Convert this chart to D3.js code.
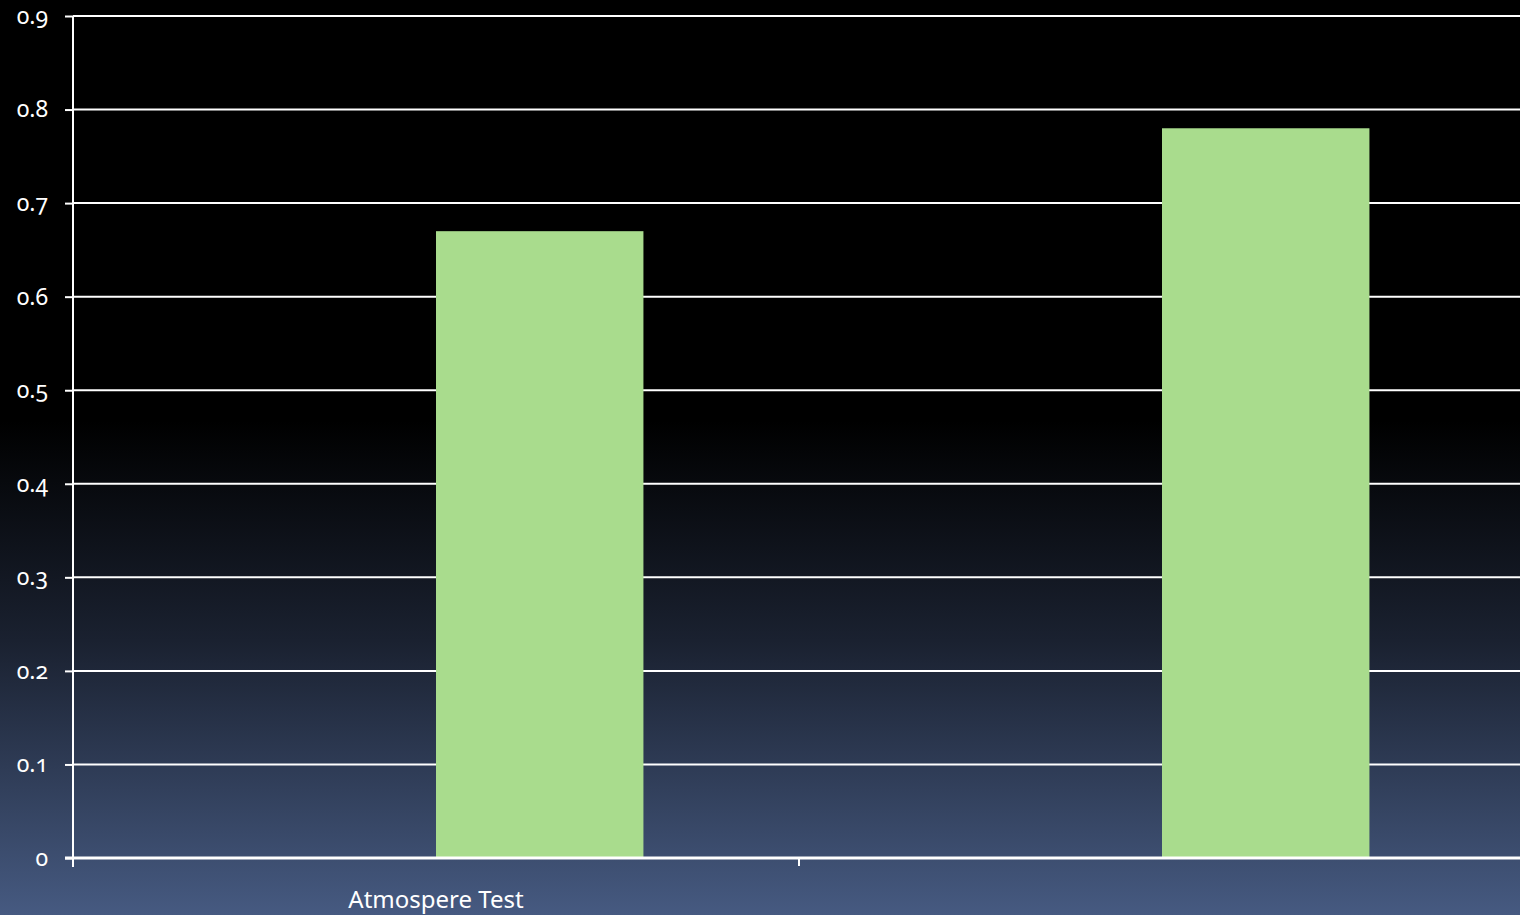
<!DOCTYPE html>
<html><head><meta charset="utf-8">
<script src="https://cdn.jsdelivr.net/npm/d3@7"></script>
<style>
html,body{margin:0;padding:0;background:#000;overflow:hidden}
text{font-family:"Noto Sans","Open Sans",sans-serif;fill:#fff;font-variant-numeric:oldstyle-nums;font-feature-settings:"onum" 1}
</style></head>
<body><svg id="c" width="1520" height="915"></svg>
<script>
const categories = ["Atmospere Test", ""];
const seriesNames = ["Series 1", "Series 2"];
const series1 = [null, null];
const series2 = [0.67, 0.78];
const yTicks = [0, 0.1, 0.2, 0.3, 0.4, 0.5, 0.6, 0.7, 0.8, 0.9];

const W = 1520, H = 915;
const svg = d3.select("#c");
const defs = svg.append("defs");
const grad = defs.append("linearGradient").attr("id","bg").attr("x1",0).attr("y1",0).attr("x2",0).attr("y2",1);
grad.append("stop").attr("offset","0%").attr("stop-color","#000");
grad.append("stop").attr("offset","46%").attr("stop-color","#000");
grad.append("stop").attr("offset","70%").attr("stop-color","#1a2130");
grad.append("stop").attr("offset","100%").attr("stop-color","#465a81");
svg.append("rect").attr("width",W).attr("height",H).attr("fill","url(#bg)");

const m = {left:73, top:16, right:-5, bottom:57};
const x0 = d3.scaleBand().domain(d3.range(categories.length)).range([m.left, W - m.right]).paddingInner(0).paddingOuter(0);
const y = d3.scaleLinear().domain([0, 0.9]).range([H - m.bottom, m.top]);
const bw = x0.bandwidth();
const barW = bw / 3.5;
const x1 = d3.scaleBand().domain([0,1]).range([0.75*barW, 2.75*barW]).padding(0);

// gridlines
svg.append("g").selectAll("line").data(yTicks.filter(d=>d>0)).join("line")
  .attr("x1", m.left).attr("x2", W).attr("y1", d=>y(d)).attr("y2", d=>y(d))
  .attr("stroke","#fff").attr("stroke-width",2);

// bars
const data = [series1, series2];
data.forEach((s, si) => {
  svg.append("g").selectAll("rect").data(s.map((v,i)=>({v,i})).filter(d=>d.v!=null)).join("rect")
    .attr("x", d => x0(d.i) + x1(si))
    .attr("width", x1.bandwidth())
    .attr("y", d => y(d.v))
    .attr("height", d => y(0) - y(d.v))
    .attr("fill", "#a9dc8d");
});

// y axis
const ya = d3.axisLeft(y).tickValues(yTicks).tickFormat(d => d === 0 ? "0" : d3.format(".1f")(d)).tickSize(8).tickPadding(17);
const gy = svg.append("g").attr("transform",`translate(${m.left},0)`).call(ya);
gy.select(".domain").attr("stroke","#fff").attr("stroke-width",2).attr("d",`M0,${y(0.9)}V${y(0)+9}`);
gy.selectAll(".tick line").attr("stroke","#fff").attr("stroke-width",2);
gy.selectAll(".tick text").attr("fill","#fff").style("font-size","23px").attr("font-family",null);

// x axis
const xa = d3.axisBottom(x0).tickFormat(i => categories[i]).tickSize(0).tickPadding(45);
const gx = svg.append("g").attr("transform",`translate(0,${y(0)})`).call(xa);
gx.select(".domain").attr("stroke","#fff").attr("stroke-width",3).attr("d",`M${m.left-8},0H${W}`);
gx.selectAll(".tick text").attr("fill","#fff").style("font-size","24px").attr("font-family",null).attr("dy","0.2em")
  .attr("x", 0);
gx.selectAll(".tick").attr("transform", (i) => `translate(${x0(i)+bw/2},0)`);
// category separator ticks
svg.append("g").selectAll("line").data(d3.range(1, categories.length)).join("line")
  .attr("x1", i=>x0(i)).attr("x2", i=>x0(i)).attr("y1", y(0)).attr("y2", y(0)+8)
  .attr("stroke","#fff").attr("stroke-width",2);
</script></body></html>
